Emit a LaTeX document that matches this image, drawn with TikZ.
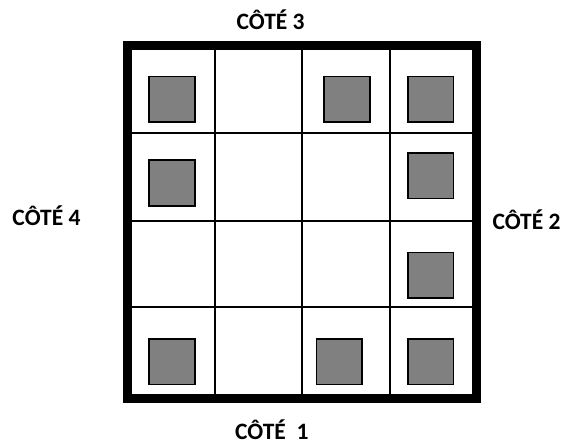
\documentclass[tikz,border=0pt]{standalone}
\usepackage{fontspec}
\setmainfont{Carlito}
\definecolor{boxgray}{RGB}{128,128,128}
\begin{document}
\begin{tikzpicture}[x=1pt,y=-1pt,
  token/.style={draw=black,line width=1.5pt,fill=boxgray,minimum size=45.8pt,inner sep=0pt,outer sep=0pt},
  sidelabel/.style={font=\fontsize{23.5}{28}\selectfont\bfseries,inner sep=0pt,anchor=base west},
  frame/.style={line width=8.5pt},
  gridline/.style={line width=2pt}]
\useasboundingbox (0,0) rectangle (567,445);
% grid lines
\draw[gridline] (215,45.5) -- (215,398.5);
\draw[gridline] (302,45.5) -- (302,398.5);
\draw[gridline] (389.5,45.5) -- (389.5,398.5);
\draw[gridline] (127.5,132.7) -- (476.5,132.7);
\draw[gridline] (127.5,220.7) -- (476.5,220.7);
\draw[gridline] (127.5,307.2) -- (476.5,307.2);
% outer frame
\draw[frame] (127.5,45.5) rectangle (476.5,398.5);
% tokens
\node[token] (t00) at (172,99.2) {};
\node[token] (t20) at (347,99.2) {};
\node[token] (t30) at (430.7,99.2) {};
\node[token] (t01) at (172,183) {};
\node[token] (t31) at (430.7,175.8) {};
\node[token] (t32) at (430.7,275.2) {};
\node[token] (t03) at (172,361.7) {};
\node[token] (t23) at (339.2,361.7) {};
\node[token] (t33) at (430.7,361.7) {};
% labels
\node[sidelabel] (c3) at (236.5,29) {CÔTÉ 3};
\node[sidelabel] (c4) at (12.3,225.7) {CÔTÉ 4};
\node[sidelabel] (c2) at (492.3,229) {CÔTÉ 2};
\node[sidelabel] (c1) at (235,439) {CÔTÉ\ \ 1};
\end{tikzpicture}
\end{document}
